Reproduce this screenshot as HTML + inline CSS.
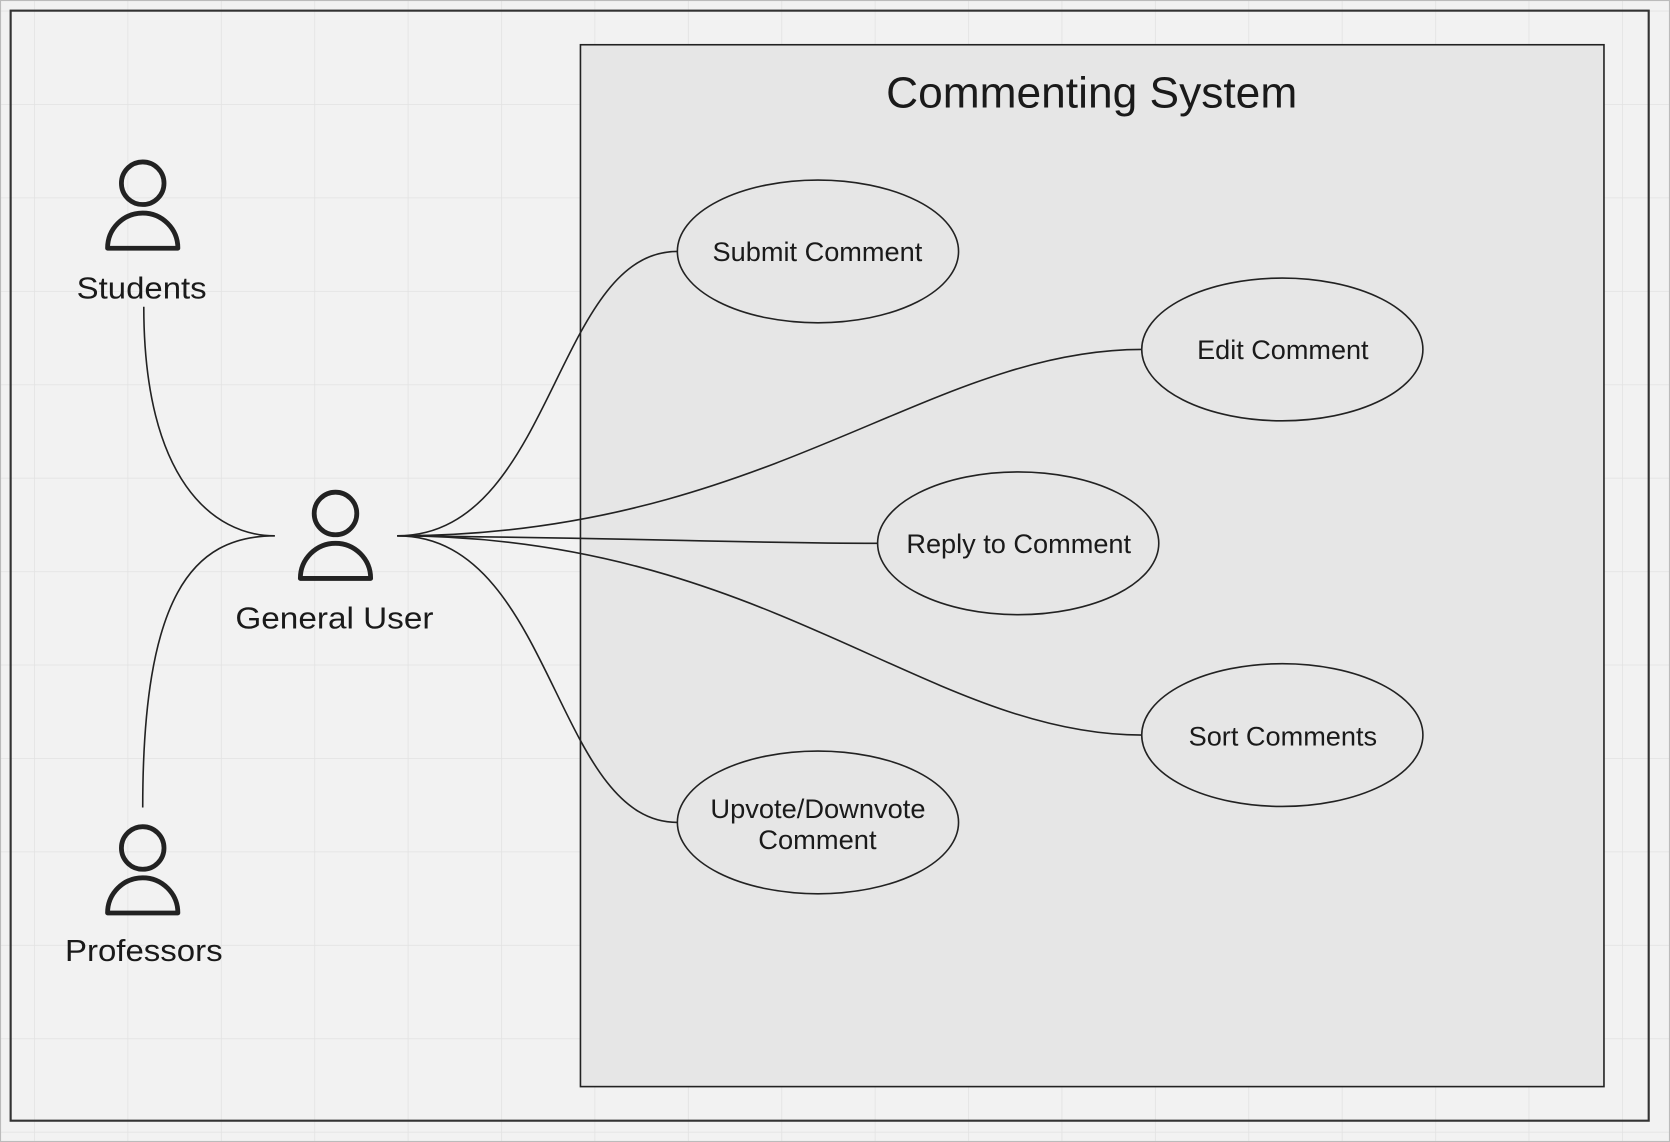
<!DOCTYPE html>
<html><head><meta charset="utf-8"><style>html,body{margin:0;padding:0;background:#f2f2f2}svg{display:block}</style></head>
<body>
<svg width="1670" height="1142" viewBox="0 0 1568 1072" preserveAspectRatio="none" xmlns="http://www.w3.org/2000/svg" font-family="'Liberation Sans', Arial, sans-serif">
<defs>
<pattern id="g" x="32" y="10" width="87.7" height="87.7" patternUnits="userSpaceOnUse">
<path d="M0 0 V87.7 M0 0 H87.7" stroke="#e2e2e2" stroke-width="1.5" fill="none"/>
</pattern>
<g id="p">
<circle cx="0" cy="0" r="20" fill="none" stroke="#222" stroke-width="4.5"/>
<path d="M-33 61 A33 33 0 0 1 33 61 Z" fill="none" stroke="#222" stroke-width="4.5" stroke-linejoin="round"/>
</g>
</defs>
<rect x="0" y="0" width="1568" height="1072" fill="#f2f2f2"/>
<rect x="0" y="0" width="1568" height="1072" fill="url(#g)"/>
<rect x="0.5" y="0.5" width="1567" height="1071" fill="none" stroke="#bbb" stroke-width="1"/>
<rect x="10" y="10" width="1538" height="1042" fill="none" stroke="#333" stroke-width="2"/>
<rect x="545" y="42" width="961" height="978" fill="#e6e6e6" stroke="#222" stroke-width="1.5"/>
<text x="832" y="101" font-size="41" textLength="386" lengthAdjust="spacingAndGlyphs" fill="#1a1a1a">Commenting System</text>

<use href="#p" x="134" y="172"/>
<text x="72" y="280" font-size="29" textLength="122" lengthAdjust="spacingAndGlyphs" fill="#1a1a1a">Students</text>
<use href="#p" x="315" y="482"/>
<text x="221" y="590" font-size="29" textLength="186" lengthAdjust="spacingAndGlyphs" fill="#1a1a1a">General User</text>
<use href="#p" x="134" y="796"/>
<text x="61" y="902" font-size="29" textLength="148" lengthAdjust="spacingAndGlyphs" fill="#1a1a1a">Professors</text>

<g fill="none" stroke="#222" stroke-width="1.5">
<path d="M135 288 C135 450 200 503 258 503"/>
<path d="M134 758 C134 560 180 503 258 503"/>
<path d="M373 503 C520 503 520 236 636 236"/>
<path d="M373 503 C720 503 870 328 1072 328"/>
<path d="M373 503 C600 505 700 510 824 510"/>
<path d="M373 503 C720 503 870 690 1072 690"/>
<path d="M373 503 C520 503 520 772 636 772"/>
</g>
<g fill="#e6e6e6" stroke="#222" stroke-width="1.5">
<ellipse cx="768" cy="236" rx="132" ry="67"/>
<ellipse cx="1204" cy="328" rx="132" ry="67"/>
<ellipse cx="956" cy="510" rx="132" ry="67"/>
<ellipse cx="1204" cy="690" rx="132" ry="67"/>
<ellipse cx="768" cy="772" rx="132" ry="67"/>
</g>
<g font-size="25" fill="#1a1a1a" lengthAdjust="spacingAndGlyphs">
<text x="669" y="245" textLength="197" lengthAdjust="spacingAndGlyphs">Submit Comment</text>
<text x="1124" y="337" textLength="161" lengthAdjust="spacingAndGlyphs">Edit Comment</text>
<text x="851" y="519" textLength="211" lengthAdjust="spacingAndGlyphs">Reply to Comment</text>
<text x="1116" y="700" textLength="177" lengthAdjust="spacingAndGlyphs">Sort Comments</text>
<text x="667" y="768" textLength="202" lengthAdjust="spacingAndGlyphs">Upvote/Downvote</text>
<text x="712" y="797" textLength="111" lengthAdjust="spacingAndGlyphs">Comment</text>
</g>
</svg>
</body></html>
